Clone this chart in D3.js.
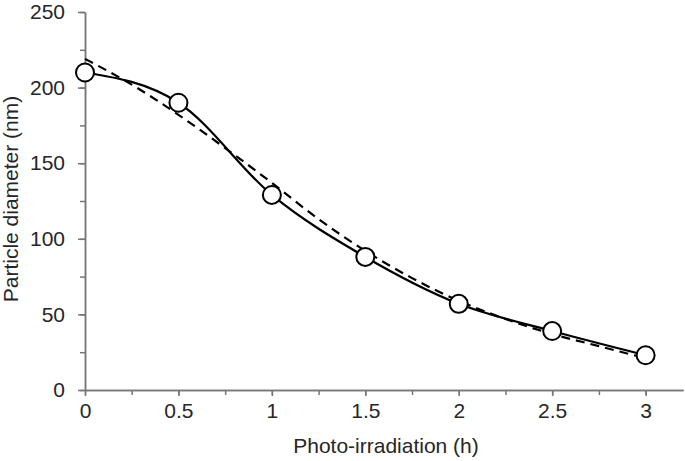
<!DOCTYPE html>
<html>
<head>
<meta charset="utf-8">
<script src="https://cdn.jsdelivr.net/npm/d3@7"></script>
<style>
  html, body { margin: 0; padding: 0; background: #fff; }
  svg { display: block; font-family: "Liberation Sans", Arial, sans-serif; }
</style>
</head>
<body>
<div id="chart"></div>
<script>
// Measured points (hours, nm)
const hours = [0, 0.5, 1, 1.5, 2, 2.5, 3];
const diameters = [210, 190, 129, 88, 57, 39, 23];

// Fitted curve (dashed)
const fitHours = [0, 0.25, 0.5, 0.75, 1, 1.25, 1.5, 1.75, 2, 2.25, 2.5, 2.75, 2.97];
const fitDiameters = [219, 202, 182, 160, 137, 113, 92, 74, 59, 47, 37, 29, 22];

const xTicks = [0, 0.5, 1, 1.5, 2, 2.5, 3];
const yTicks = [0, 50, 100, 150, 200, 250];

const W = 685, H = 461;
const margin = { top: 12, right: 2, bottom: 71, left: 85 };

const svg = d3.select("#chart").append("svg")
    .attr("width", W)
    .attr("height", H);

const x = d3.scaleLinear().domain([0, 3.2]).range([margin.left, W - margin.right]);
const y = d3.scaleLinear().domain([0, 250]).range([H - margin.bottom, margin.top]);

const axisColor = "#777";
const textColor = "#262626";
const fontSize = "21px";

// X axis: major ticks with labels, minor ticks every 0.25
const xAxis = svg.append("g")
    .attr("transform", `translate(0,${y(0)})`);
xAxis.call(d3.axisBottom(x).tickValues(d3.range(0, 3.01, 0.25)).tickSize(5).tickFormat("").tickSizeOuter(0));
xAxis.append("g").call(d3.axisBottom(x).tickValues(xTicks).tickSize(6).tickFormat(d3.format("")).tickSizeOuter(0));
xAxis.selectAll(".domain").attr("stroke", axisColor).attr("stroke-width", 1.5);
xAxis.selectAll("line").attr("stroke", axisColor).attr("stroke-width", 1.5);
xAxis.selectAll("text")
    .attr("fill", textColor)
    .style("font-size", fontSize)
    .attr("dy", "0.2em")
    .attr("y", 24);

// Y axis: major ticks with labels, minor ticks every 25
const yAxis = svg.append("g")
    .attr("transform", `translate(${x(0)},0)`);
yAxis.call(d3.axisLeft(y).tickValues(d3.range(0, 251, 25)).tickSize(5).tickFormat("").tickSizeOuter(0));
yAxis.append("g").call(d3.axisLeft(y).tickValues(yTicks).tickSize(7).tickFormat(d3.format("")).tickSizeOuter(0));
yAxis.selectAll(".domain").attr("stroke", axisColor).attr("stroke-width", 1.5);
yAxis.selectAll("line").attr("stroke", axisColor).attr("stroke-width", 1.5);
yAxis.selectAll("text")
    .attr("fill", textColor)
    .style("font-size", fontSize)
    .attr("x", -20);

// Axis titles
svg.append("text")
    .attr("x", 386)
    .attr("y", 453)
    .attr("text-anchor", "middle")
    .attr("fill", textColor)
    .style("font-size", fontSize)
    .text("Photo-irradiation (h)");

svg.append("text")
    .attr("transform", `translate(18,${(y(0) + y(250)) / 2 - 2}) rotate(-90)`)
    .attr("text-anchor", "middle")
    .attr("fill", textColor)
    .style("font-size", fontSize)
    .text("Particle diameter (nm)");

// Fitted dashed curve
const fitData = fitHours.map((h, i) => ({ h, d: fitDiameters[i] }));
svg.append("path")
    .datum(fitData)
    .attr("fill", "none")
    .attr("stroke", "#000")
    .attr("stroke-width", 2.2)
    .attr("stroke-dasharray", "9,6")
    .attr("d", d3.line().x(d => x(d.h)).y(d => y(d.d)).curve(d3.curveMonotoneX));

// Solid curve through measurements
const pts = hours.map((h, i) => ({ h, d: diameters[i] }));
svg.append("path")
    .datum(pts)
    .attr("fill", "none")
    .attr("stroke", "#000")
    .attr("stroke-width", 2.2)
    .attr("d", d3.line().x(d => x(d.h)).y(d => y(d.d)).curve(d3.curveMonotoneX));

// Markers
svg.append("g")
    .selectAll("circle")
    .data(pts)
    .join("circle")
    .attr("cx", d => x(d.h))
    .attr("cy", d => y(d.d))
    .attr("r", 9)
    .attr("fill", "#fff")
    .attr("stroke", "#000")
    .attr("stroke-width", 2);
</script>
</body>
</html>
